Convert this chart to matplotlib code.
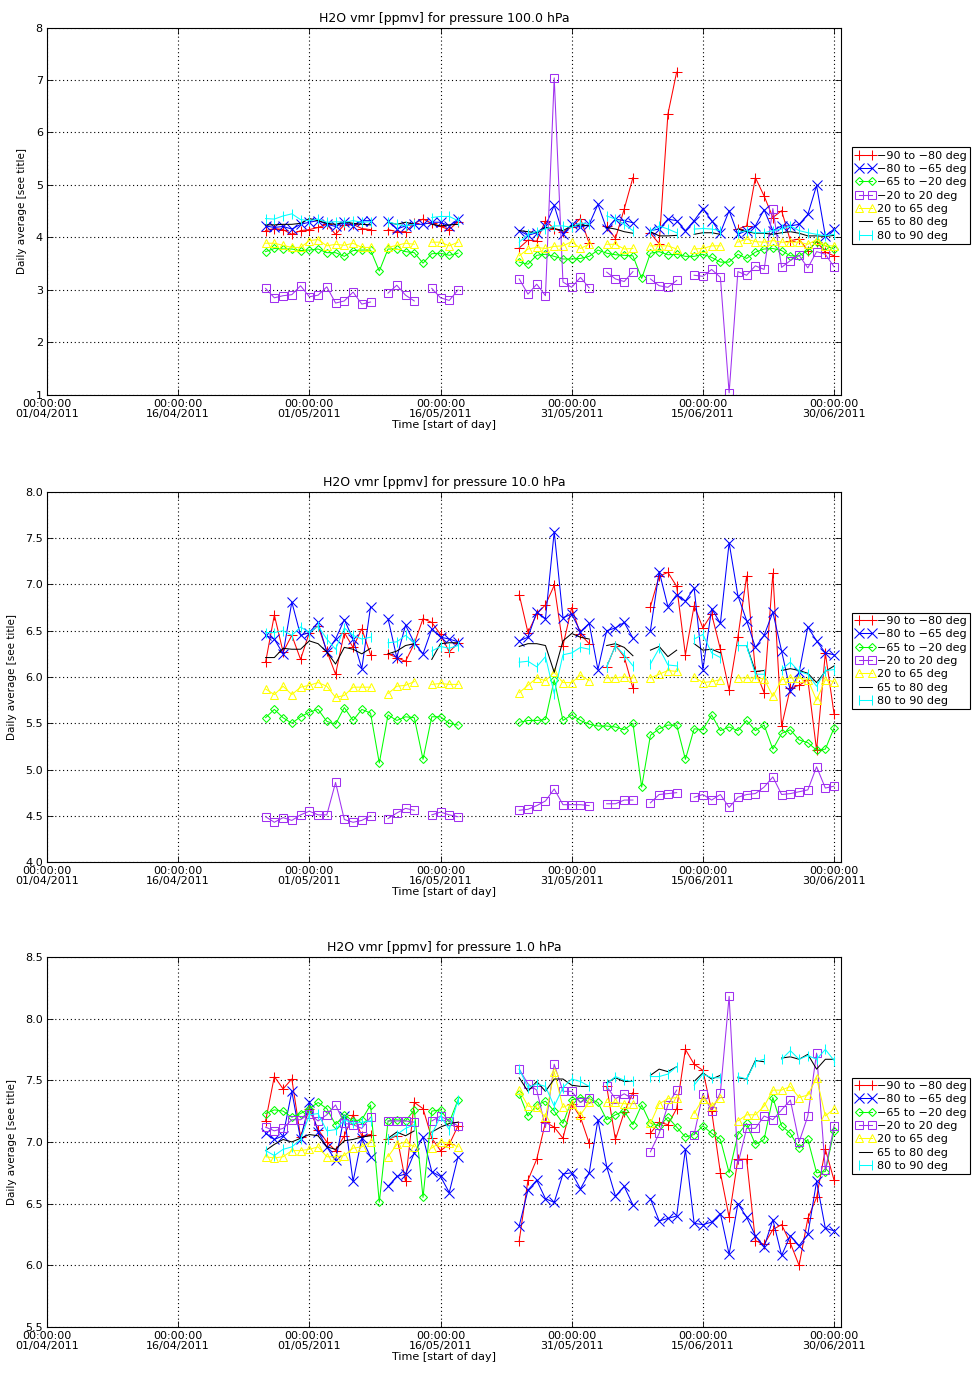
import numpy as np
import matplotlib
matplotlib.use("Agg")
import matplotlib.pyplot as plt

# days since 01/04/2011: left block 26/04-18/05, right block 25/05-30/06
days = list(range(25, 48)) + list(range(54, 91))
tick_days = [0, 15, 30, 45, 60, 75, 90]
tick_labels = ["00:00:00\n01/04/2011", "00:00:00\n16/04/2011", "00:00:00\n01/05/2011",
               "00:00:00\n16/05/2011", "00:00:00\n31/05/2011", "00:00:00\n15/06/2011",
               "00:00:00\n30/06/2011"]
series_labels = ["\u221290 to \u221280 deg", "\u221280 to \u221265 deg", "\u221265 to \u221220 deg",
                 "\u221220 to 20 deg", "20 to 65 deg", "65 to 80 deg", "80 to 90 deg"]
pressures = ["100.0", "10.0", "1.0"]
N = None

# ---- 100 hPa ----
p1_red = [4.13, 4.17, 4.15, 4.06, 4.13, 4.15, 4.19, 4.25, 4.06, 4.24, 4.25, 4.17, 4.15, N, 4.15, 4.11, 4.11, 4.27, 4.35, 4.27, 4.21, 4.15, 4.30,
          3.80, 3.95, 3.93, 4.32, 4.17, 4.10, 4.20, 4.36, 3.89, N, 4.21, 3.98, 4.54, 5.14, N, 4.08, 3.88, 6.35, 7.15, N, N, N, N, N, N,
          4.16, 4.22, 5.14, 4.79, 4.38, 4.51, 3.94, 3.97, 3.75, 3.92, 3.72, 3.65]
p1_blue = [4.22, 4.19, 4.21, 4.16, 4.25, 4.29, 4.32, 4.25, 4.21, 4.29, 4.22, 4.32, 4.32, N, 4.32, 4.16, 4.22, 4.25, 4.25, 4.29, 4.29, 4.22, 4.35,
           4.13, 4.04, 4.09, 4.22, 4.61, 4.06, 4.25, 4.19, 4.25, 4.63, 4.16, 4.35, 4.32, 4.28, N, 4.13, 4.16, 4.35, 4.32, 4.13, 4.32, 4.55, 4.32, 4.09, 4.51,
           4.06, 4.13, 4.22, 4.53, 4.13, 4.22, 4.22, 4.25, 4.44, 4.99, 4.03, 4.16]
p1_green = [3.73, 3.79, 3.78, 3.78, 3.75, 3.76, 3.78, 3.71, 3.71, 3.64, 3.75, 3.76, 3.76, 3.36, 3.78, 3.78, 3.73, 3.71, 3.51, 3.69, 3.70, 3.66, 3.70,
            3.53, 3.49, 3.66, 3.68, 3.64, 3.59, 3.59, 3.60, 3.64, 3.76, 3.70, 3.67, 3.66, 3.65, 3.22, 3.70, 3.73, 3.67, 3.68, 3.64, 3.64, 3.68, 3.62, 3.53, 3.53,
            3.68, 3.60, 3.72, 3.78, 3.79, 3.75, 3.65, 3.65, 3.75, 3.92, 3.84, 3.78]
p1_purple = [3.03, 2.85, 2.89, 2.91, 3.08, 2.87, 2.90, 3.06, 2.75, 2.79, 2.96, 2.73, 2.77, N, 2.94, 3.09, 2.90, 2.79, N, 3.03, 2.85, 2.80, 3.00,
             3.21, 2.92, 3.11, 2.89, 7.04, 3.15, 3.05, 3.24, 3.04, N, 3.34, 3.21, 3.16, 3.35, N, 3.21, 3.08, 3.05, 3.18, N, 3.28, 3.26, 3.39, 3.24, 1.04,
             3.35, 3.28, 3.46, 3.39, 4.55, 3.43, 3.56, 3.66, 3.42, 3.73, 3.68, 3.44]
p1_yellow = [3.89, 3.89, 3.85, 3.81, 3.81, 3.94, 3.96, 3.84, 3.87, 3.85, 3.89, 3.81, 3.81, N, 3.81, 3.85, 3.89, 3.87, N, 3.91, 3.91, 3.84, 3.91,
             3.65, 3.78, 3.81, 3.79, 3.83, 3.84, 3.92, 3.79, 3.87, N, 3.87, 3.87, 3.78, 3.79, N, 3.84, 3.84, 3.84, 3.78, N, 3.78, 3.79, 3.84, 3.84, N,
             3.91, 3.97, 3.92, 3.91, 3.94, 3.91, 3.91, 3.91, 3.87, 3.96, 3.84, 3.84]
p1_black = [4.24, 4.24, 4.25, 4.25, 4.27, 4.36, 4.32, 4.27, 4.25, 4.29, 4.27, 4.25, 4.24, N, 4.29, 4.25, 4.29, 4.25, N, 4.25, 4.22, 4.24, 4.25,
            4.13, 4.11, 4.09, 4.19, 4.17, 4.13, 4.22, 4.24, 4.22, N, 4.19, 4.16, 4.11, 4.08, N, 4.11, 4.03, 4.03, 4.04, N, 4.06, 4.09, 4.09, 4.06, N,
            4.16, 4.11, 4.08, 4.08, 4.06, 4.09, 4.11, 4.08, 4.03, 4.03, 4.02, 4.04]
p1_cyan = [4.36, 4.35, 4.41, 4.45, 4.34, 4.32, 4.35, 4.29, 4.30, 4.29, 4.32, 4.29, 4.30, N, 4.30, 4.25, 4.22, 4.25, N, 4.38, 4.40, 4.40, 4.32,
           3.91, 4.06, 4.11, 4.16, 4.22, 4.22, 4.19, 4.28, 4.25, N, 4.41, 4.35, 4.25, 4.13, N, 4.11, 4.22, 4.16, 4.09, N, 4.16, 4.17, 4.16, 4.13, N,
           4.09, 4.13, 4.09, 4.09, 4.13, 4.16, 4.22, 4.13, 4.09, 4.06, 4.03, 4.06]

# ---- 10 hPa ----
p2_red = [6.16, 6.67, 6.27, 6.45, 6.19, 6.48, 6.55, 6.28, 6.03, 6.48, 6.32, 6.52, 6.24, N, 6.25, 6.21, 6.17, 6.36, 6.63, 6.59, 6.46, 6.27, 6.37,
          6.89, 6.48, 6.68, 6.78, 6.99, 6.34, 6.75, 6.46, 6.36, N, 6.11, 6.34, 6.22, 5.88, N, 6.76, 7.09, 7.13, 6.98, 6.24, 6.77, 6.53, 6.68, 6.30, 5.86,
          6.43, 7.09, 6.07, 5.83, 7.12, 5.47, 5.88, 5.91, 5.97, 5.21, 6.26, 5.60]
p2_blue = [6.45, 6.41, 6.25, 6.81, 6.45, 6.48, 6.59, 6.27, 6.41, 6.62, 6.41, 6.09, 6.76, N, 6.63, 6.21, 6.56, 6.37, 6.25, 6.52, 6.43, 6.41, 6.38,
           6.39, 6.43, 6.70, 6.63, 7.57, 6.64, 6.68, 6.49, 6.58, 6.08, 6.50, 6.53, 6.59, 6.42, N, 6.50, 7.14, 6.76, 6.89, 6.82, 6.96, 6.08, 6.74, 6.58, 7.45,
           6.88, 6.61, 6.32, 6.45, 6.70, 6.28, 5.85, 6.05, 6.54, 6.39, 6.26, 6.24]
p2_green = [5.56, 5.65, 5.56, 5.50, 5.57, 5.62, 5.65, 5.52, 5.49, 5.67, 5.53, 5.65, 5.61, 5.07, 5.59, 5.53, 5.57, 5.56, 5.11, 5.57, 5.57, 5.50, 5.48,
            5.51, 5.53, 5.53, 5.54, 5.97, 5.53, 5.59, 5.53, 5.49, 5.47, 5.47, 5.46, 5.43, 5.50, 4.81, 5.37, 5.44, 5.48, 5.48, 5.11, 5.44, 5.43, 5.59, 5.42, 5.46,
            5.42, 5.53, 5.42, 5.48, 5.22, 5.39, 5.43, 5.32, 5.29, 5.21, 5.22, 5.45]
p2_purple = [4.49, 4.43, 4.48, 4.45, 4.51, 4.55, 4.51, 4.51, 4.86, 4.46, 4.43, 4.45, 4.50, N, 4.47, 4.53, 4.58, 4.56, N, 4.51, 4.54, 4.51, 4.49,
             4.56, 4.57, 4.61, 4.66, 4.79, 4.62, 4.62, 4.62, 4.61, N, 4.63, 4.63, 4.67, 4.67, N, 4.64, 4.73, 4.74, 4.75, N, 4.70, 4.73, 4.67, 4.73, 4.59,
             4.70, 4.73, 4.74, 4.81, 4.92, 4.73, 4.74, 4.76, 4.78, 5.03, 4.80, 4.82]
p2_yellow = [5.87, 5.81, 5.90, 5.81, 5.89, 5.91, 5.94, 5.90, 5.78, 5.80, 5.89, 5.89, 5.89, N, 5.82, 5.90, 5.91, 5.95, N, 5.92, 5.93, 5.92, 5.92,
             5.83, 5.91, 5.99, 5.96, 6.05, 5.94, 5.94, 6.02, 5.96, N, 5.99, 5.99, 6.00, 5.99, N, 5.99, 6.03, 6.07, 6.06, N, 6.00, 5.94, 5.95, 5.97, N,
             5.99, 5.99, 5.99, 5.98, 5.79, 5.97, 5.99, 5.99, 5.97, 5.75, 5.97, 5.95]
p2_black = [6.21, 6.21, 6.31, 6.30, 6.30, 6.39, 6.36, 6.27, 6.14, 6.32, 6.30, 6.25, 6.31, N, 6.25, 6.28, 6.34, 6.36, N, 6.19, 6.36, 6.37, 6.37,
            6.33, 6.36, 6.36, 6.34, 6.05, 6.39, 6.47, 6.43, 6.41, N, 6.34, 6.36, 6.32, 6.23, N, 6.29, 6.33, 6.22, 6.29, N, 6.36, 6.29, 6.30, 6.26, N,
            6.34, 6.34, 6.06, 6.07, N, 6.07, 6.09, 6.07, 6.04, 5.94, 6.06, 6.12]
p2_cyan = [6.48, 6.48, 6.50, 6.45, 6.54, 6.48, 6.55, 6.41, 6.30, 6.53, 6.45, 6.41, 6.43, N, 6.37, 6.38, 6.45, 6.37, N, 6.28, 6.33, 6.31, 6.34,
           6.16, 6.17, 6.11, 6.22, 5.82, 6.24, 6.26, 6.32, 6.30, N, 6.11, 6.34, 6.24, 6.12, N, 6.14, 6.31, 6.13, 6.12, N, 6.41, 6.46, 6.26, 6.21, N,
           6.34, 6.34, 6.03, 6.03, N, 6.08, 6.16, 6.06, 6.03, 5.90, 6.07, 6.08]

# ---- 1 hPa ----
p3_red = [7.17, 7.53, 7.43, 7.51, 7.04, 7.27, 7.10, 7.00, 6.93, 7.05, 7.22, 7.05, 7.06, N, 7.02, 7.05, 6.68, 7.32, 7.27, 7.03, 6.93, 6.98, 7.13,
          6.20, 6.69, 6.86, 7.16, 7.12, 7.03, 7.31, 7.20, 6.99, N, 7.45, 7.02, 7.24, 7.40, N, 7.07, 7.16, 7.14, 7.27, 7.75, 7.63, 7.58, 7.25, 6.75, 6.39,
          6.86, 6.86, 6.20, 6.17, 6.29, 6.33, 6.18, 6.00, 6.38, 6.55, 6.94, 6.69]
p3_blue = [7.07, 7.02, 7.05, 7.41, 7.02, 7.32, 7.08, 6.96, 6.85, 7.21, 6.68, 7.03, 6.88, N, 6.64, 6.72, 6.74, 6.91, 7.04, 6.76, 6.72, 6.59, 6.88,
           6.32, 6.61, 6.69, 6.54, 6.51, 6.74, 6.75, 6.62, 6.75, 7.18, 6.80, 6.56, 6.64, 6.49, N, 6.54, 6.36, 6.38, 6.40, 6.94, 6.34, 6.33, 6.35, 6.42, 6.09,
           6.50, 6.39, 6.24, 6.15, 6.37, 6.08, 6.24, 6.16, 6.25, 6.68, 6.30, 6.28]
p3_green = [7.23, 7.26, 7.25, 7.20, 7.23, 7.27, 7.32, 7.27, 7.14, 7.22, 7.17, 7.18, 7.30, 6.51, 7.17, 7.18, 7.17, 7.26, 6.55, 7.25, 7.26, 7.16, 7.34,
            7.39, 7.21, 7.30, 7.33, 7.25, 7.15, 7.34, 7.36, 7.35, 7.32, 7.18, 7.22, 7.25, 7.14, 7.30, 7.15, 7.13, 7.20, 7.12, 7.04, 7.06, 7.13, 7.07, 7.02, 6.75,
            7.06, 7.15, 6.98, 7.02, 7.36, 7.13, 7.07, 6.95, 7.02, 6.75, 6.76, 7.09]
p3_purple = [7.12, 7.09, 7.11, 7.18, 7.18, 7.23, 7.17, 7.22, 7.30, 7.15, 7.14, 7.11, 7.20, N, 7.17, 7.17, 7.17, 7.16, N, 7.17, 7.21, 7.17, 7.13,
             7.59, 7.47, 7.42, 7.12, 7.63, 7.41, 7.41, 7.32, 7.36, N, 7.45, 7.35, 7.39, 7.35, N, 6.92, 7.07, 7.30, 7.42, N, 7.06, 7.39, 7.25, 7.40, 8.18,
             6.82, 7.11, 7.11, 7.21, 7.18, 7.26, 7.34, 7.00, 7.21, 7.72, 6.77, 7.13]
p3_yellow = [6.88, 6.87, 6.88, 6.93, 6.93, 6.94, 6.96, 6.88, 6.88, 6.89, 6.95, 6.96, 7.00, N, 6.88, 6.98, 7.00, 6.96, N, 6.95, 7.00, 6.99, 6.96,
             7.42, 7.29, 7.28, 7.20, 7.57, 7.28, 7.31, 7.22, 7.32, N, 7.32, 7.32, 7.31, 7.31, N, 7.15, 7.31, 7.35, 7.36, N, 7.23, 7.35, 7.29, 7.36, N,
             7.17, 7.22, 7.22, 7.29, 7.42, 7.42, 7.45, 7.36, 7.38, 7.52, 7.21, 7.27]
p3_black = [6.93, 6.98, 7.02, 7.00, 7.03, 7.06, 7.05, 6.96, 6.94, 7.01, 7.02, 7.04, 7.05, N, 7.03, 7.08, 7.05, 7.09, N, 7.08, 7.12, 7.15, 7.16,
            7.52, 7.41, 7.49, 7.41, 7.51, 7.51, 7.46, 7.45, 7.45, N, 7.48, 7.52, 7.49, 7.49, N, 7.54, 7.59, 7.57, 7.61, N, 7.49, 7.56, 7.51, 7.54, N,
            7.52, 7.51, 7.66, 7.65, N, 7.68, 7.69, 7.67, 7.71, 7.59, 7.67, 7.67]
p3_cyan = [6.93, 6.89, 6.94, 6.96, 7.02, 7.22, 7.23, 7.09, 7.10, 7.18, 7.15, 7.16, 7.17, N, 7.02, 7.06, 7.11, 7.14, N, 7.06, 7.21, 7.10, 7.34,
           7.59, 7.44, 7.47, 7.45, 7.29, 7.44, 7.51, 7.49, 7.45, N, 7.47, 7.53, 7.50, 7.49, N, 7.53, 7.53, 7.55, 7.61, N, 7.46, 7.55, 7.52, 7.52, N,
           7.53, 7.51, 7.65, 7.67, N, 7.67, 7.74, 7.67, 7.70, 7.67, 7.75, 7.66]

panels = [
    [p1_red, p1_blue, p1_green, p1_purple, p1_yellow, p1_black, p1_cyan],
    [p2_red, p2_blue, p2_green, p2_purple, p2_yellow, p2_black, p2_cyan],
    [p3_red, p3_blue, p3_green, p3_purple, p3_yellow, p3_black, p3_cyan],
]
ylims = [(1, 8), (4.0, 8.0), (5.5, 8.5)]
yticks = [np.arange(1, 9, 1), np.arange(4.0, 8.01, 0.5), np.arange(5.5, 8.51, 0.5)]
yfmt = ["%d", "%.1f", "%.1f"]

colors = ["#ff0000", "#0000ff", "#00ff00", "#a030f0", "#ffff00", "#000000", "#00ffff"]
markers = ["+", "x", "D", "s", "^", None, "|"]
msizes = [7, 6.5, 4, 6, 5.5, 0, 7]

# axes boxes in figure fractions (left, bottom, width, height)
boxes = [(0.048, 0.713, 0.812, 0.267),
         (0.048, 0.3735, 0.812, 0.269),
         (0.048, 0.0356, 0.812, 0.269)]

fig = plt.figure(figsize=(9.78, 13.76), dpi=100)

for i in range(3):
    ax = fig.add_axes(boxes[i])
    x = np.array(days, dtype=float)
    x = np.insert(x, 23, np.nan)   # break between the two blocks
    for vals, c, m, ms in zip(panels[i], colors, markers, msizes):
        y = np.array([np.nan if v is None else v for v in vals], dtype=float)
        y = np.insert(y, 23, np.nan)
        ax.plot(x, y, color=c, lw=0.75, marker=m, ms=ms, mfc="none", mec=c, mew=0.75)

    ax.set_xlim(0, 90.8)
    ax.set_ylim(*ylims[i])
    ax.set_xticks(tick_days)
    ax.set_xticklabels(tick_labels, fontsize=8, linespacing=0.95)
    ax.set_yticks(yticks[i])
    ax.set_yticklabels([yfmt[i] % v for v in yticks[i]], fontsize=8)
    ax.tick_params(direction="in", top=True, right=True, length=4, width=0.6, pad=3)
    ax.grid(True, linestyle=(0, (1, 2.5)), color="black", linewidth=0.8)
    for s in ax.spines.values():
        s.set_linewidth(0.8)
    ax.set_title("H2O vmr [ppmv] for pressure %s hPa" % pressures[i], fontsize=9, pad=4)
    ax.set_xlabel("Time [start of day]", fontsize=8, labelpad=1)
    ax.set_ylabel("Daily average [see title]", fontsize=7.5, labelpad=6)

    leg = ax.legend(series_labels, loc="upper left", bbox_to_anchor=(1.014, 0.674),
                    fontsize=8, frameon=True, fancybox=False, edgecolor="black",
                    framealpha=1, borderaxespad=0, borderpad=0.3, labelspacing=0.3,
                    handlelength=1.8, handletextpad=0.1, numpoints=2)
    leg.get_frame().set_linewidth(0.8)

fig.savefig("out.png", dpi=100)
